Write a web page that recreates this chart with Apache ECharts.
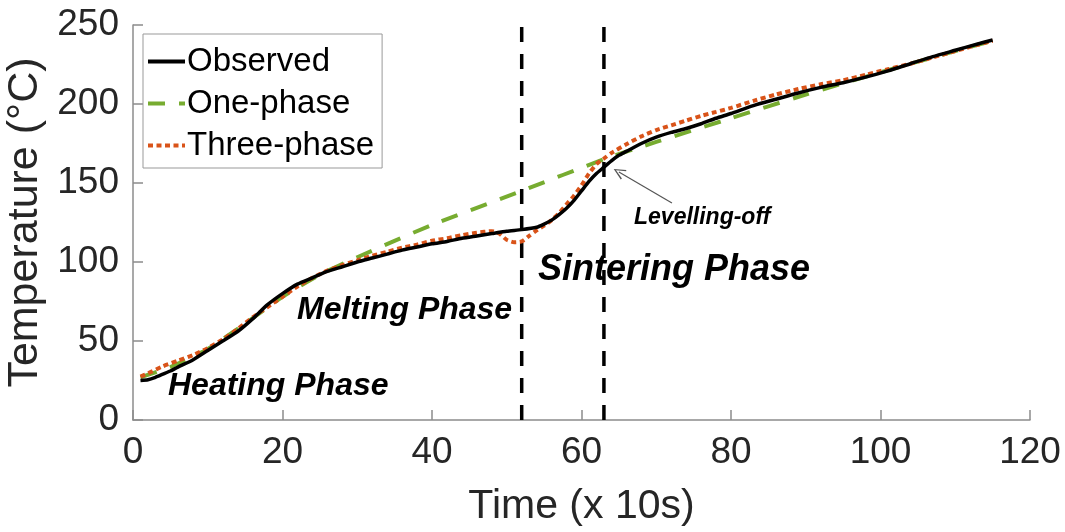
<!DOCTYPE html>
<html>
<head>
<meta charset="utf-8">
<script src="https://cdn.jsdelivr.net/npm/echarts@6/dist/echarts.min.js"></script>
<style>
  html, body { margin: 0; padding: 0; background: #fff; }
  #chart { width: 1065px; height: 532px; }
</style>
</head>
<body>
<div id="chart"></div>
<script>
// 读图得到的数据 (x = 时间/10s, y = 温度 °C)
const obsTime = [1, 2, 3, 4, 5, 6, 8, 10, 12, 14, 16, 18, 20, 22, 24, 26, 28, 30, 32, 34, 36, 38, 40, 42, 44, 46, 48, 50, 52, 54, 55, 56, 57, 58, 59, 60, 61, 62, 63, 64, 65, 66, 68, 70, 72, 74, 76, 78, 80, 83, 86, 89, 92, 95, 98, 101, 104, 107, 110, 113, 115];
const obsTemp = [25, 25.5, 27, 29, 31, 33.5, 38, 44, 50, 56, 64, 73, 80, 86, 90, 94, 97, 100, 102.5, 105, 107.5, 109.5, 111.5, 113, 115, 116.5, 118, 119.5, 120.5, 122, 124, 126.5, 130, 134, 139, 145, 151, 156, 160, 164, 167.5, 170, 175, 179, 182, 184.5, 187.5, 191, 194, 199, 203, 207, 210.5, 213.5, 217, 221, 225.5, 230, 234, 238, 240.5];

const oneTime = [1, 5, 10, 15, 20, 25, 30, 40, 52, 63, 70, 80, 90, 100, 110, 115];
const oneTemp = [27, 33.5, 45, 61, 78, 92, 103, 123.5, 145, 165, 176, 191, 206, 220, 233.5, 240];

const threeTime = [1, 2, 4, 6, 8, 10, 12, 14, 16, 18, 20, 22, 24, 26, 28, 30, 32, 34, 36, 38, 40, 42, 44, 46, 48, 49, 50, 51, 52, 53, 54, 55, 56, 57, 58, 59, 60, 61, 62, 63, 64, 66, 68, 70, 72, 74, 76, 78, 80, 83, 86, 89, 92, 95, 98, 101, 104, 107, 110, 113, 115];
const threeTemp = [27.5, 29.5, 34, 37.5, 41, 45.5, 51, 57.5, 65, 71.5, 78, 84.5, 90, 94.5, 98, 101, 104, 106.5, 109, 111, 113.5, 115, 117, 118.5, 119.5, 118, 114, 112.5, 113, 116.5, 120, 123, 126.5, 131, 136.5, 142, 148.5, 156, 162, 165.5, 169, 174.5, 179.5, 183.5, 186.5, 189.5, 192.5, 195, 197.5, 202, 206, 209.5, 212.5, 215, 218.5, 222, 225.5, 229.5, 233.5, 237.5, 240];

// 相变分界 (x) 及其竖线的 y 范围
const phaseBounds = [52, 63];
const boundRange = [0, 250];
const arrowFrom = [72.1, 137.3];
const arrowTo = [65.0, 157];

const FONT = '"Liberation Sans", Arial, Helvetica, sans-serif';
const pairs = (xs, ys) => xs.map((x, i) => [x, ys[i]]);
const arrowStyle = { color: '#555', width: 1.2, type: 'solid' };

const boundSeries = phaseBounds.map((b) => ({
  name: 'bound-' + b,
  type: 'line',
  data: boundRange.map((y) => [b, y]),
  symbol: 'none',
  silent: true,
  lineStyle: { color: '#000', width: 3.5, type: [15, 12] },
  z: 1
}));

const chart = echarts.init(document.getElementById('chart'));

chart.setOption({
  animation: false,
  backgroundColor: '#fff',
  textStyle: { fontFamily: FONT },
  grid: { left: 133, right: 35, top: 25, bottom: 112, containLabel: false, outerBoundsMode: 'none' },
  legend: {
    orient: 'vertical',
    left: 143,
    top: 34,
    width: 243,
    padding: [11, 8, 6, 3],
    itemGap: 9,
    itemWidth: 37,
    itemHeight: 14,
    borderColor: '#999',
    borderWidth: 1,
    backgroundColor: '#fff',
    itemStyle: { color: 'rgba(0,0,0,0)', borderWidth: 0, opacity: 0 },
    lineStyle: { width: 4 },
    textStyle: { fontSize: 33, color: '#000', fontFamily: FONT, padding: [0, 0, 0, -3] },
    data: ['Observed', 'One-phase', 'Three-phase']
  },
  xAxis: {
    type: 'value',
    min: 0, max: 120, interval: 20,
    name: 'Time (x 10s)',
    nameLocation: 'middle',
    nameGap: 66,
    nameTextStyle: { fontSize: 41, color: '#262626', fontFamily: FONT },
    axisLine: { lineStyle: { color: '#8c8c8c', width: 1.5 } },
    axisTick: { inside: true, length: 10, lineStyle: { color: '#8c8c8c', width: 1.5 } },
    axisLabel: { fontSize: 37, color: '#262626', margin: 14, fontFamily: FONT },
    splitLine: { show: false }
  },
  yAxis: {
    type: 'value',
    min: 0, max: 250, interval: 50,
    name: 'Temperature (°C)',
    nameLocation: 'middle',
    nameGap: 82,
    nameTextStyle: { fontSize: 43, color: '#262626', fontFamily: FONT },
    axisLine: { show: true, lineStyle: { color: '#8c8c8c', width: 1.5 } },
    axisTick: { show: true, inside: true, length: 10, lineStyle: { color: '#8c8c8c', width: 1.5 } },
    axisLabel: { fontSize: 37, color: '#262626', margin: 14, fontFamily: FONT },
    splitLine: { show: false }
  },
  series: [
    ...boundSeries,
    {
      name: 'Observed',
      type: 'line',
      data: pairs(obsTime, obsTemp),
      symbol: 'none',
      smooth: 0.2,
      lineStyle: { color: '#000', width: 3.5 },
      itemStyle: { color: '#000' },
      markLine: {
        silent: true,
        symbol: 'none',
        label: { show: false },
        data: [
          [
            { coord: arrowFrom, symbol: 'none', lineStyle: arrowStyle },
            { coord: arrowTo, symbol: 'path://M5,0 L10,11 L8.8,11.6 L5,2.6 L1.2,11.6 L0,11 Z', symbolSize: [11, 12],
              lineStyle: arrowStyle }
          ]
        ]
      },
      z: 5
    },
    {
      name: 'One-phase',
      type: 'line',
      data: pairs(oneTime, oneTemp),
      symbol: 'none',
      smooth: 0.2,
      lineStyle: { color: '#77AC30', width: 4, type: [17, 14] },
      itemStyle: { color: '#77AC30' },
      z: 3
    },
    {
      name: 'Three-phase',
      type: 'line',
      data: pairs(threeTime, threeTemp),
      symbol: 'none',
      smooth: 0.2,
      lineStyle: { color: '#D95319', width: 4, type: [5, 3.5] },
      itemStyle: { color: '#D95319' },
      z: 4
    }
  ],
  graphic: [
    { type: 'text', left: 168, top: 370, style: { text: 'Heating Phase', font: 'italic bold 32px ' + FONT, fill: '#000' } },
    { type: 'text', left: 297, top: 294, style: { text: 'Melting Phase', font: 'italic bold 32px ' + FONT, fill: '#000' } },
    { type: 'text', left: 538, top: 252, style: { text: 'Sintering Phase', font: 'italic bold 36px ' + FONT, fill: '#000' } },
    { type: 'text', left: 634, top: 206, style: { text: 'Levelling-off', font: 'italic bold 23px ' + FONT, fill: '#000' } }
  ]
});
</script>
</body>
</html>
